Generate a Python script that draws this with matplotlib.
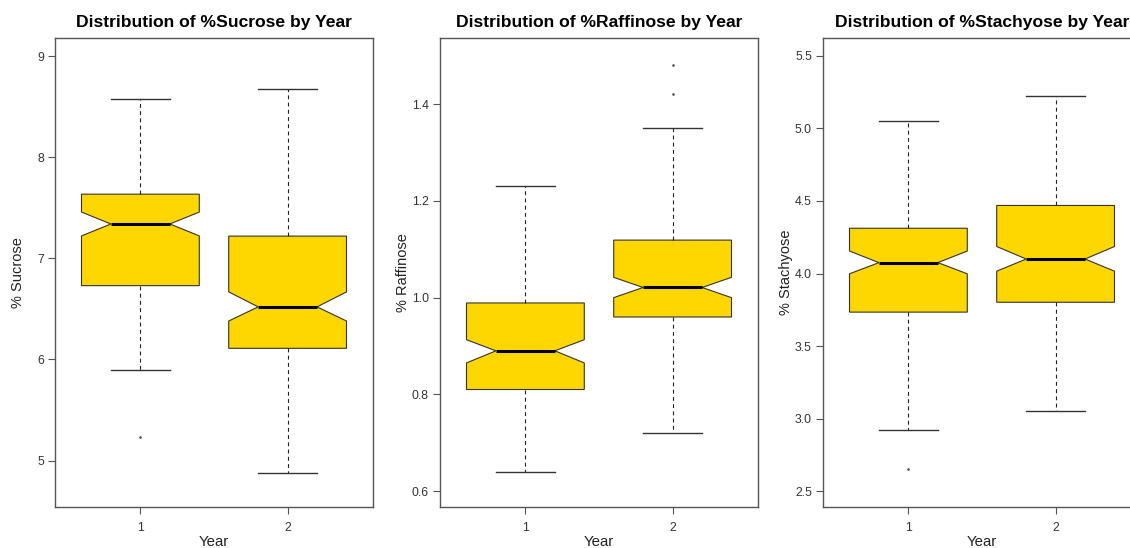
"""
plot.py
=======
Notched boxplots of sugar content (%Sucrose, %Raffinose, %Stachyose) by year.
"""

import matplotlib
matplotlib.use("Agg")
import matplotlib.pyplot as plt

plt.rcParams["font.family"] = ["Liberation Sans", "DejaVu Sans"]

YEARS = ["1", "2"]

# per-year summary stats
SUCROSE_LOW = [5.90, 4.88]
SUCROSE_Q1 = [6.73, 6.11]
SUCROSE_MED = [7.34, 6.52]
SUCROSE_Q3 = [7.635, 7.22]
SUCROSE_HIGH = [8.58, 8.68]
SUCROSE_CI = [(7.222, 7.458), (6.38, 6.668)]
SUCROSE_OUT = [[5.23], []]

RAFFINOSE_LOW = [0.64, 0.72]
RAFFINOSE_Q1 = [0.81, 0.96]
RAFFINOSE_MED = [0.89, 1.021]
RAFFINOSE_Q3 = [0.989, 1.119]
RAFFINOSE_HIGH = [1.23, 1.351]
RAFFINOSE_CI = [(0.865, 0.913), (1.0, 1.042)]
RAFFINOSE_OUT = [[], [1.421, 1.482]]

STACHYOSE_LOW = [2.92, 3.05]
STACHYOSE_Q1 = [3.734, 3.802]
STACHYOSE_MED = [4.075, 4.10]
STACHYOSE_Q3 = [4.312, 4.469]
STACHYOSE_HIGH = [5.05, 5.22]
STACHYOSE_CI = [(3.998, 4.155), (4.016, 4.186)]
STACHYOSE_OUT = [[2.654], []]

PANELS = [
    ("Sucrose", SUCROSE_LOW, SUCROSE_Q1, SUCROSE_MED, SUCROSE_Q3, SUCROSE_HIGH,
     SUCROSE_CI, SUCROSE_OUT, [5, 6, 7, 8, 9], (4.54, 9.18), "%d"),
    ("Raffinose", RAFFINOSE_LOW, RAFFINOSE_Q1, RAFFINOSE_MED, RAFFINOSE_Q3,
     RAFFINOSE_HIGH, RAFFINOSE_CI, RAFFINOSE_OUT,
     [0.6, 0.8, 1.0, 1.2, 1.4], (0.567, 1.537), "%.1f"),
    ("Stachyose", STACHYOSE_LOW, STACHYOSE_Q1, STACHYOSE_MED, STACHYOSE_Q3,
     STACHYOSE_HIGH, STACHYOSE_CI, STACHYOSE_OUT,
     [2.5, 3.0, 3.5, 4.0, 4.5, 5.0, 5.5], (2.391, 5.623), "%.1f"),
]

W, H = 1130, 548
AX_LEFT = [55, 440, 823]   # pixels
AX_W, AX_TOP, AX_BOT = 318, 38, 507

GOLD = "#FFD700"
EDGE = "#333333"
FRAME = "#555555"
TXT = "#333333"


def build_stats(low, q1, med, q3, high, ci, out):
    stats = []
    for i in range(len(YEARS)):
        stats.append(dict(label=YEARS[i], whislo=low[i], q1=q1[i], med=med[i],
                          q3=q3[i], whishi=high[i], cilo=ci[i][0],
                          cihi=ci[i][1], fliers=out[i]))
    return stats


fig = plt.figure(figsize=(W / 100, H / 100), dpi=100)
ax_h = AX_BOT - AX_TOP

for left, panel in zip(AX_LEFT, PANELS):
    name, low, q1, med, q3, high, ci, out, ticks, ylim, fmt = panel
    ax = fig.add_axes([left / W, 1 - AX_BOT / H, AX_W / W, ax_h / H])
    stats = build_stats(low, q1, med, q3, high, ci, out)
    ax.bxp(stats, positions=[1, 2], widths=0.8, shownotches=True,
           patch_artist=True,
           boxprops=dict(facecolor=GOLD, edgecolor=EDGE, linewidth=0.8),
           medianprops=dict(color="black", linewidth=2.2),
           whiskerprops=dict(color="#222222", linewidth=0.8,
                             linestyle=(0, (3.5, 3))),
           capprops=dict(color="#333333", linewidth=1.0),
           flierprops=dict(marker="o", markersize=0.9, markerfacecolor="#555555",
                           markeredgecolor="#555555", linestyle="none"))

    ax.set_xlim(0.42, 2.58)
    ax.set_ylim(*ylim)
    ax.set_yticks(ticks)
    ax.set_yticklabels([fmt % t for t in ticks])
    ax.set_xticks([1, 2])
    ax.set_xticklabels(YEARS)
    ax.tick_params(axis="both", direction="out", length=5, width=0.8,
                   colors=FRAME, labelcolor=TXT, labelsize=8.8, pad=3)
    ax.tick_params(axis="x", pad=6)
    for sp in ax.spines.values():
        sp.set_color(FRAME)
        sp.set_linewidth(1.0)
    # the last panel runs past the right edge of the picture
    if left + AX_W > W:
        ax.spines["right"].set_visible(False)

    ax.set_title(f"Distribution of %{name} by Year", fontsize=12.6,
                 fontweight="bold", color="black", pad=8)
    ax.set_xlabel("Year", fontsize=10.8, color="#222222", va="center")
    ax.xaxis.set_label_coords(0.5, -34.5 / ax_h)
    ax.set_ylabel(f"% {name}", fontsize=10.5, color="#222222", va="center")
    ax.yaxis.set_label_coords(-37 / AX_W, 0.5)

fig.savefig("out.png", dpi=100)
plt.close()
